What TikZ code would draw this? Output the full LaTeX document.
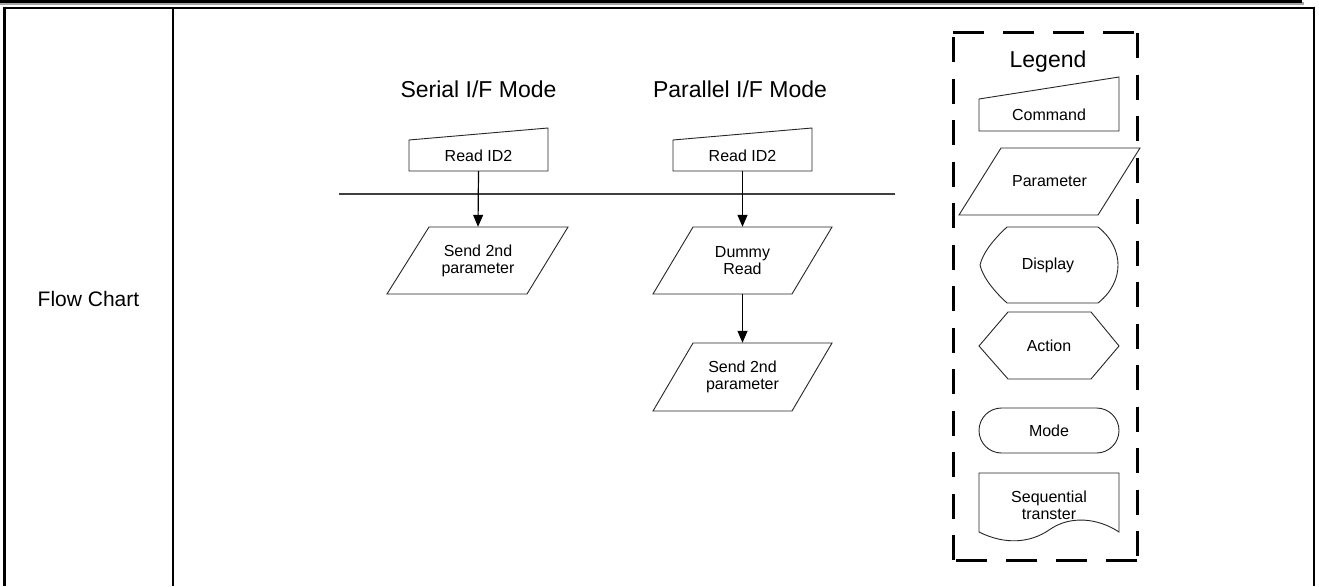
\documentclass[tikz,border=0pt]{standalone}
\usepackage{fontspec}
\setmainfont{Liberation Sans}
\usetikzlibrary{arrows.meta}
\begin{document}
\begin{tikzpicture}[x=1pt,y=-1pt,
  shp/.style={draw=black!85, line width=0.9pt},
  lbl/.style={inner sep=0pt, align=center, font=\fontsize{16}{17}\selectfont},
  ttl/.style={inner sep=0pt, anchor=base, font=\fontsize{23}{26}\selectfont},
  flow/.style={-{Triangle[length=12pt,width=10pt]}, line width=1.2pt, black},
  dashv/.style={line width=3pt, dash pattern=on 25pt off 16.5pt},
  dashh/.style={line width=3pt, dash pattern=on 31pt off 19pt}]
\useasboundingbox (0,0) rectangle (1319,586);
\fill[white] (0,0) rectangle (1319,586);
% top bar
\fill[black!35] (0,2) rectangle (1303.5,4.8);
\fill[black] (0,0) rectangle (1302,3.4);
% table frame
\draw[line width=2pt] (3,7.7) -- (1315,7.7);
\draw[line width=3pt] (4.5,6.7) -- (4.5,586);
\draw[line width=2.6pt] (1314,6.7) -- (1314,586);
\draw[line width=1.8pt] (173,7.7) -- (173,586);
% left cell
\node[ttl, font=\fontsize{21}{24}\selectfont] (fc) at (88.5,306) {Flow Chart};
% titles
\node[ttl] (ts) at (478.5,97) {Serial I/F Mode};
\node[ttl] (tp) at (740,97) {Parallel I/F Mode};
% separator
\draw[line width=1.2pt, black!75] (339,194) -- (895,194);
% serial column
\node[lbl, minimum width=139pt, minimum height=31pt] (rs) at (478.5,155.5) {Read ID2};
\draw[shp] (409,171) -- (409,140) -- (548,128) -- (548,171) -- cycle;
\node[lbl, minimum width=139pt, minimum height=67pt] (ss) at (478,260.5) {Send 2nd\\parameter};
\draw[shp] (387,294) -- (429,227) -- (568,227) -- (527,294) -- cycle;
\draw[flow] (rs.south) -- (ss.north);
% parallel column
\node[lbl, minimum width=139pt, minimum height=31pt] (rp) at (742.5,155.5) {Read ID2};
\draw[shp] (673,171) -- (673,140) -- (812,128) -- (812,171) -- cycle;
\node[lbl, minimum width=139pt, minimum height=67pt] (dr) at (742.5,260.5) {Dummy\\Read};
\draw[shp] (653,294) -- (693,227) -- (832,227) -- (792,294) -- cycle;
\node[lbl, minimum width=139pt, minimum height=68pt] (sp) at (742.5,377) {Send 2nd\\parameter};
\draw[shp] (653,411) -- (693,343) -- (832,343) -- (792,411) -- cycle;
\draw[flow] (rp.south) -- (dr.north);
\draw[flow] (dr.south) -- (sp.north);
% legend box
\draw[dashv] (953,560) -- (953,33);
\draw[dashh] (953,33) -- (1137,33);
\draw[dashv] (1137,33) -- (1137,560);
\draw[dashh] (1137,560) -- (953,560);
\node[ttl] (lg) at (1048,67) {Legend};
\node[lbl, minimum width=140pt, minimum height=32pt] (lc) at (1049,115) {Command};
\draw[shp] (979,131) -- (979,99) -- (1119,77) -- (1119,131) -- cycle;
\node[lbl, minimum width=139pt, minimum height=67pt] (lpar) at (1049.5,181.5) {Parameter};
\draw[shp] (959,215) -- (1001,148) -- (1140,148) -- (1098,215) -- cycle;
\node[lbl, minimum width=139pt, minimum height=76pt] (ld) at (1048,265) {Display};
\draw[shp] (1007,227) -- (1098,227) .. controls (1112,238) and (1118,252) .. (1118,265)
  .. controls (1118,278) and (1112,292) .. (1098,303) -- (1007,303)
  .. controls (995,292) and (983,278) .. (980,265) .. controls (983,252) and (995,238) .. cycle;
\node[lbl, minimum width=140pt, minimum height=67pt] (la) at (1049,345.5) {Action};
\draw[shp] (979,346) -- (1008,312) -- (1091,312) -- (1119,346) -- (1091,379) -- (1008,379) -- cycle;
\node[lbl, shp, rounded corners=22.5pt, minimum width=140pt, minimum height=45pt] (lm) at (1049,430.5) {Mode};
\node[lbl, minimum width=140pt, minimum height=59pt] (ls) at (1049,505) {Sequential\\transter};
\draw[shp] (979,532) -- (979,473) -- (1119,473) -- (1119,532)
  .. controls (1098,518) and (1070,515) .. (1049,530)
  .. controls (1030,543) and (1005,545) .. (979,532) -- cycle;
\end{tikzpicture}
\end{document}
